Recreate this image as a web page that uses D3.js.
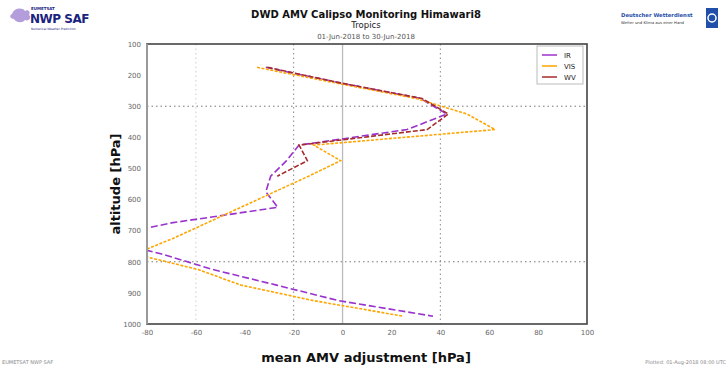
<!DOCTYPE html>
<html><head><meta charset="utf-8">
<script src="https://cdn.jsdelivr.net/npm/d3@7"></script>
<style>body{margin:0;background:#fff;}svg{display:block;font-family:"DejaVu Sans",sans-serif;}</style>
</head><body><svg id="c" width="728" height="366"></svg>
<script>
const levels = [175,225,275,325,375,425,475,525,575,625,675,725,775,825,875,925,975];
const seriesNames = ["IR","VIS","WV"];
const irValues  = [-31.4,-1,31.8,42.7,26.4,-17.8,-22.9,-29.4,-31.4,-26.5,-70,-100,-74,-53,-27,-1.6,37];
const visValues = [-35,-3,30,50.9,62.4,-11.8,-0.8,-13.9,-27.8,-41.6,-55.5,-69.4,-85,-59,-41.6,-11.8,24.9];
const wvValues  = [-30.7,-1,32.5,43.3,34.6,-17.8,-14.4,-26.7,null,null,null,null,null,null,null,null,null];
const xTicks = [-80,-60,-40,-20,0,20,40,60,80,100];
const yTicks = [100,200,300,400,500,600,700,800,900,1000];
const xGrid = [-60,-20,40];
const yGrid = [300,800];

const svg = d3.select("#c");
const L=147,R=587,T=44,B=324;
const x = d3.scaleLinear().domain([-80,100]).range([L,R]);
const y = d3.scaleLinear().domain([100,1000]).range([T,B]);

// titles
svg.append("text").attr("x",366).attr("y",18).attr("text-anchor","middle").attr("font-size",10).attr("font-weight","bold").attr("fill","#111").text("DWD AMV Calipso Monitoring Himawari8");
svg.append("text").attr("x",366).attr("y",28).attr("text-anchor","middle").attr("font-size",8.5).attr("fill","#222").text("Tropics");
svg.append("text").attr("x",366).attr("y",39).attr("text-anchor","middle").attr("font-size",7).attr("fill","#555").text("01-Jun-2018 to 30-Jun-2018");

// grid
const g = svg.append("g");
g.selectAll(".vg").data(xGrid).join("line").attr("x1",d=>x(d)).attr("x2",d=>x(d)).attr("y1",T).attr("y2",B)
 .attr("stroke",(d,i)=>i===0?"#ccc":"#888").attr("stroke-width",1).attr("stroke-dasharray","1.5,3");
g.selectAll(".hg").data(yGrid).join("line").attr("y1",d=>y(d)).attr("y2",d=>y(d)).attr("x1",L).attr("x2",R)
 .attr("stroke","#777").attr("stroke-width",1).attr("stroke-dasharray","1.5,3");
g.append("line").attr("x1",x(0)).attr("x2",x(0)).attr("y1",T).attr("y2",B).attr("stroke","#bbb").attr("stroke-width",1.3);

// lines
svg.append("clipPath").attr("id","clip").append("rect").attr("x",L).attr("y",T).attr("width",R-L).attr("height",B-T);
const series = [
 {name:seriesNames[0], vals:irValues, color:"#9a32cd", dash:"7,3"},
 {name:seriesNames[1], vals:visValues, color:"#ffa500", dash:"3,1.5"},
 {name:seriesNames[2], vals:wvValues, color:"#a52a2a", dash:"5,2"}
];
const line = d3.line().defined(d=>d.v!==null).x(d=>x(d.v)).y(d=>y(d.p));
const lg = svg.append("g").attr("clip-path","url(#clip)");
series.forEach(s=>{
  lg.append("path").datum(levels.map((p,i)=>({p,v:s.vals[i]}))).attr("d",line)
   .attr("fill","none").attr("stroke",s.color).attr("stroke-width",1.6).attr("stroke-dasharray",s.dash);
});

// frame
svg.append("rect").attr("x",L).attr("y",T).attr("width",R-L).attr("height",B-T).attr("fill","none").attr("stroke","#444").attr("stroke-width",1.6);
svg.append("line").attr("x1",L).attr("x2",L).attr("y1",T).attr("y2",B).attr("stroke","#999").attr("stroke-width",2);

// axes
const xa = svg.append("g").attr("transform",`translate(0,${B})`).call(d3.axisBottom(x).tickValues(xTicks).tickSize(0).tickPadding(6).tickFormat(d=>d));
const ya = svg.append("g").attr("transform",`translate(${L},0)`).call(d3.axisLeft(y).tickValues(yTicks).tickSize(0).tickPadding(6).tickFormat(d=>d));
[xa,ya].forEach(a=>{a.select(".domain").remove();a.selectAll("text").attr("font-size",7).attr("fill","#666").attr("font-family","DejaVu Sans");});

// axis labels
svg.append("text").attr("transform","translate(120,184) rotate(-90)").attr("text-anchor","middle").attr("font-size",13).attr("font-weight","bold").attr("fill","#111").text("altitude [hPa]");
svg.append("text").attr("x",366).attr("y",362).attr("text-anchor","middle").attr("font-size",13).attr("font-weight","bold").attr("fill","#111").text("mean AMV adjustment [hPa]");

// legend
const leg = svg.append("g");
leg.append("rect").attr("x",537).attr("y",46).attr("width",46).attr("height",38).attr("fill","#fff").attr("stroke","#bbb").attr("stroke-width",1);
series.forEach((s,i)=>{
  const yy = 55+i*11;
  leg.append("line").attr("x1",542).attr("x2",557).attr("y1",yy).attr("y2",yy).attr("stroke",s.color).attr("stroke-width",1.5);
  leg.append("text").attr("x",564).attr("y",yy+2.5).attr("font-size",7).attr("fill","#222").text(s.name);
});

// logos
const lo = svg.append("g");
lo.append("path").attr("d","M12,14 C14,8 22,7 25,11 C28,9 31,12 29,15 C32,17 29,22 25,20 C22,24 15,22 14,19 C10,19 9,15 12,14Z").attr("fill","#b39ddb");
lo.append("text").attr("x",31).attr("y",10).attr("font-size",4).attr("font-weight","bold").attr("fill","#1a237e").text("EUMETSAT");
lo.append("text").attr("x",30).attr("y",23).attr("font-size",12).attr("font-weight","bold").attr("fill","#1a237e").attr("letter-spacing","-0.5").text("NWP SAF");
lo.append("text").attr("x",31).attr("y",30).attr("font-size",3).attr("fill","#1a237e").text("Numerical Weather Prediction");
lo.append("text").attr("x",621).attr("y",17).attr("font-size",5.3).attr("font-weight","bold").attr("fill","#1f4fa8").text("Deutscher Wetterdienst");
lo.append("text").attr("x",621).attr("y",24).attr("font-size",3.8).attr("fill","#333").text("Wetter und Klima aus einer Hand");
lo.append("rect").attr("x",706).attr("y",8).attr("width",12).attr("height",20).attr("fill","#1f4fa8");
lo.append("circle").attr("cx",712).attr("cy",18).attr("r",4).attr("fill","none").attr("stroke","#fff").attr("stroke-width",1.5);

// footers
svg.append("text").attr("x",2).attr("y",364).attr("font-size",5).attr("fill","#888").text("EUMETSAT NWP SAF");
svg.append("text").attr("x",726).attr("y",364).attr("text-anchor","end").attr("font-size",5).attr("fill","#888").text("Plotted: 01-Aug-2018 08:00 UTC");
</script></body></html>
